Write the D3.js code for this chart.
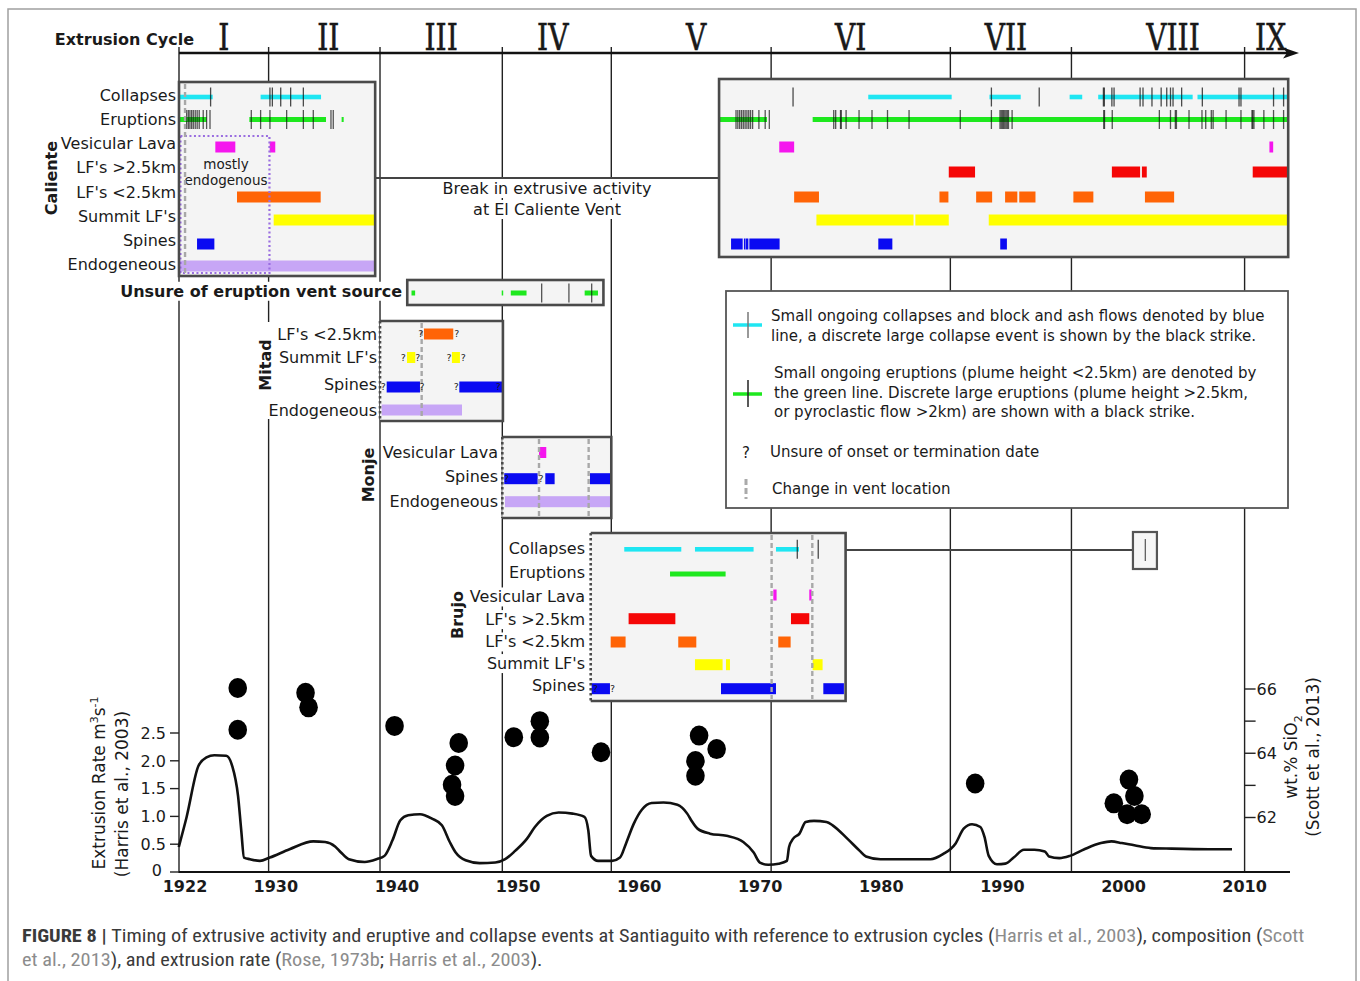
<!DOCTYPE html>
<html><head><meta charset="utf-8">
<script src="https://cdn.jsdelivr.net/npm/d3@7"></script>
<style>
body{margin:0;background:#fff}
svg{display:block}
text{font-family:"DejaVu Sans",Verdana,sans-serif;fill:#1a1a1a}
</style>
</head><body>
<svg id="c" width="1360" height="981"></svg>
<script>
// ---------------- DATA ----------------
const cycleNames = ["I","II","III","IV","V","VI","VII","VIII","IX"];
const cycleBounds = [1922,1929.4,1938.6,1948.7,1957.7,1970.9,1985.7,1995.7,2010];
const yearTicks = [1922,1930,1940,1950,1960,1970,1980,1990,2000,2010];
const rateTicks = [0,0.5,1.0,1.5,2.0,2.5];
const rateTickLabels = ["0","0.5","1.0","1.5","2.0","2.5"];
const sioTicks = [62,63,64,65,66];
const sioTickLabels = ["62","","64","","66"];
const rowLabelsAll = ["Collapses","Eruptions","Vesicular Lava","LF's >2.5km","LF's <2.5km","Summit LF's","Spines","Endogeneous"];
const rowLabelsMitad = ["LF's <2.5km","Summit LF's","Spines","Endogeneous"];
const rowLabelsMonje = ["Vesicular Lava","Spines","Endogeneous"];
const rowLabelsBrujo = ["Collapses","Eruptions","Vesicular Lava","LF's >2.5km","LF's <2.5km","Summit LF's","Spines"];

// Caliente 1922-1938
const calCollapses = [[1922.08,1924.78],[1928.74,1933.73]];
const calCollapseStrikes = [1924.61,1929.51,1929.71,1930.4,1931.22,1932.27];
const calEruptions = [[1922.08,1924.28],[1927.81,1934.14],[1935.43,1935.6]];
const calEruptionStrikes = [1922.63,1922.77,1922.9,1923.04,1923.18,1923.34,1923.5,1923.67,1924.0,1924.28,1924.56,1927.97,1928.74,1929.51,1930.89,1932.27,1933.09,1934.55,1934.74];
const calBars = [["ves",1925.0,1926.65],["ves",1929.49,1929.95],["lfl",1926.79,1933.7],["sum",1929.82,1938.15],["spi",1923.49,1924.92],["end",1922.08,1938.15]];

// Caliente 1966-2013
const lateCollapses = [[1978.92,1985.81],[1988.93,1991.51],[1995.55,1996.59],[1997.91,2005.71],[2006.11,2013.52]];
const lateCollapseStrikes = [1972.71,1989.09,1993.04,1998.34,1998.42,1999.04,1999.22,2001.37,2001.61,2002.35,2003.11,2003.57,2003.88,2004.09,2004.8,2006.51,2009.54,2009.7,2012.39,2013.22];
const lateEruptions = [[1966.67,1970.56],[1974.33,2013.52]];
const lateEruptionStrikes = [1968.0,1968.15,1968.3,1968.45,1968.6,1968.75,1968.9,1969.05,1969.2,1969.37,1969.89,1970.41,1970.75,1976.07,1976.23,1976.63,1976.69,1977.09,1978.16,1979.23,1980.51,1982.29,1986.52,1989.09,1989.8,1989.9,1990.0,1990.1,1990.2,1990.3,1990.4,1990.5,1990.8,1998.37,1998.43,1999.07,2002.96,2003.88,2004.28,2004.37,2005.41,2006.48,2006.79,2007.25,2007.4,2008.47,2009.7,2010.61,2010.67,2010.77,2011.59,2012.39,2013.22];
const lateBars = [["ves",1971.57,1972.8],["ves",2012.05,2012.36],
 ["lfg",1985.57,1987.74],["lfg",1999.04,2001.37],["lfg",2001.52,2001.92],["lfg",2010.67,2013.52],
 ["lfl",1972.8,1974.85],["lfl",1984.8,1985.54],["lfl",1987.83,1989.15],["lfl",1990.22,1991.23],["lfl",1991.39,1992.73],["lfl",1995.86,1997.51],["lfl",2001.77,2004.18],
 ["sum",1974.64,1982.66],["sum",1982.81,1985.57],["sum",1988.87,2013.52],
 ["spi",1967.59,1968.55],["spi",1968.65,1968.72],["spi",1968.8,1969.02],["spi",1969.1,1971.6],["spi",1979.75,1980.91],["spi",1989.82,1990.37]];

// Unsure of eruption vent source
const unsureEruptions = [[1941.2,1941.5],[1948.65,1948.73],[1949.4,1950.7],[1955.5,1956.6]];
const unsureStrikes = [1951.95,1954.2,1956.08];

// Mitad
const mitadBars = [["lfl",1942.23,1944.65],["sum",1940.83,1941.51],["sum",1944.54,1945.2],["spi",1939.15,1941.9],["spi",1945.15,1948.7],["end",1938.74,1945.37]];
const mitadUnsure = [["lfl",1941.96],["lfl",1944.93],["sum",1940.52],["sum",1941.71],["sum",1944.3],["sum",1945.48],["spi",1938.87],["spi",1942.07],["spi",1944.9],["spi",1948.37]];

// Monje
const monjeBars = [["ves",1951.73,1952.33],["spi",1948.86,1951.62],["spi",1952.25,1953.02],["spi",1955.94,1957.67],["end",1948.92,1957.67]];
const monjeUnsure = [["spi",1949.05],["spi",1951.9]];

// Brujo
const brujoCollapses = [[1958.77,1963.48],[1964.61,1969.45],[1971.3,1973.2]];
const brujoCollapseStrikes = [1973.06,1974.79];
const brujoEruptions = [[1962.55,1967.14]];
const brujoBars = [["ves",1971.08,1971.35],["ves",1974.05,1974.24],["lfg",1959.13,1962.99],["lfg",1972.54,1974.05],
 ["lfl",1957.65,1958.88],["lfl",1963.23,1964.72],["lfl",1971.49,1972.51],
 ["sum",1964.61,1966.89],["sum",1967.17,1967.5],["sum",1974.33,1975.15],
 ["spi",1956.08,1957.59],["spi",1966.76,1971.3],["spi",1975.21,1976.91]];
const brujoUnsure = [["spi",1956.4],["spi",1957.8]];
const brujoLateStrike = [2001.8];

// Extrusion rate (m3/s) [year, rate]
const rateSeries = [[1921.98,0.45],[1922.63,0.99],[1923.61,1.91],[1924.27,2.06],[1924.92,2.10],[1925.9,2.09],[1926.39,1.91],[1926.88,1.36],[1927.14,0.75],[1927.37,0.26],[1927.86,0.23],[1928.68,0.20],[1929.5,0.26],[1931.13,0.41],[1933.09,0.55],[1934.07,0.54],[1934.89,0.46],[1935.38,0.35],[1936.03,0.23],[1937.34,0.18],[1938.32,0.23],[1938.97,0.29],[1939.63,0.57],[1940.28,0.93],[1940.93,1.02],[1941.91,1.04],[1942.89,0.96],[1943.71,0.84],[1944.36,0.54],[1944.85,0.35],[1945.67,0.21],[1946.82,0.16],[1948.12,0.17],[1948.94,0.23],[1949.76,0.38],[1950.74,0.60],[1951.39,0.81],[1952.37,1.01],[1953.35,1.07],[1954.5,1.05],[1955.48,0.99],[1955.8,0.75],[1956.03,0.29],[1956.62,0.20],[1957.76,0.20],[1958.42,0.26],[1958.91,0.51],[1959.56,0.87],[1960.22,1.12],[1961.03,1.24],[1962.01,1.25],[1963.16,1.21],[1963.97,1.05],[1964.3,0.93],[1964.82,0.78],[1965.85,0.69],[1967.22,0.65],[1968.6,0.54],[1969.46,0.35],[1969.97,0.17],[1970.66,0.13],[1971.52,0.15],[1972.2,0.20],[1972.38,0.45],[1972.72,0.60],[1973.24,0.69],[1973.75,0.90],[1974.44,0.92],[1975.47,0.90],[1975.98,0.84],[1977.19,0.60],[1978.22,0.38],[1978.73,0.28],[1979.93,0.23],[1982.34,0.23],[1984.06,0.23],[1985.09,0.32],[1986.12,0.51],[1986.8,0.78],[1987.49,0.86],[1988.18,0.81],[1988.52,0.63],[1988.87,0.29],[1989.55,0.14],[1990.24,0.15],[1990.93,0.26],[1991.78,0.40],[1992.64,0.40],[1993.5,0.37],[1993.85,0.28],[1994.7,0.25],[1995.56,0.29],[1996.77,0.41],[1998.14,0.52],[1999.0,0.55],[1999.86,0.52],[2000.89,0.48],[2002.26,0.43],[2003.98,0.42],[2007.07,0.41],[2008.96,0.41]];

// Composition wt.% SiO2 [year, wt%]
const sioSeries = [[1926.85,66.03],[1926.85,64.73],[1932.45,65.88],[1932.7,65.43],[1939.8,64.85],[1945.1,64.32],[1944.8,63.62],[1944.55,63.02],[1944.8,62.67],[1949.65,64.5],[1951.8,65.0],[1951.8,64.49],[1956.85,64.03],[1964.95,64.55],[1966.4,64.13],[1964.65,63.76],[1964.65,63.3],[1987.75,63.06],[2000.45,63.18],[2000.9,62.67],[1999.2,62.44],[2000.3,62.1],[2001.5,62.1]];

const legendCollapseText = ["Small ongoing collapses and block and ash flows denoted by blue","line, a discrete large collapse event is shown by the black strike."];
const legendEruptionText = ["Small ongoing eruptions (plume height <2.5km) are denoted by","the green line. Discrete large eruptions (plume height >2.5km,","or pyroclastic flow >2km) are shown with a black strike."];
const legendUnsureText = "Unsure of onset or termination date";
const legendVentText = "Change in vent location";
const breakText = ["Break in extrusive activity","at El Caliente Vent"];

const captionLine1 = [["FIGURE 8 | ","b"],["Timing of extrusive activity and eruptive and collapse events at Santiaguito with reference to extrusion cycles (","n"],["Harris et al., 2003","l"],["), composition (","n"],["Scott","l"]];
const captionLine2 = [["et al., 2013","l"],["), and extrusion rate (","n"],["Rose, 1973b","l"],["; ","n"],["Harris et al., 2003","l"],[").","n"]];

// ---------------- STYLE ----------------
const colors = {col:"#1fe6f2", eru:"#1ee81e", ves:"#f516ee", lfg:"#f50606", lfl:"#ff6406", sum:"#ffff00", spi:"#0a0af2", end:"#c7a6f6"};

// ---------------- SCALES ----------------
const x = d3.scaleLinear().domain([1922, 2010]).range([179, 1244.6]);
const yRate = d3.scaleLinear().domain([0, 2.5]).range([872, 733]);
const ySi = d3.scaleLinear().domain([62, 66]).range([817.5, 689]);

const svg = d3.select("#c");

function bgRect(g, node, pad){
  const bb = node.getBBox();
  const t = node.getAttribute("transform");
  const r = g.insert("rect", ()=>node).attr("x",bb.x-pad).attr("y",bb.y).attr("width",bb.width+2*pad).attr("height",bb.height).attr("fill","#fff");
  if(t) r.attr("transform",t);
}

// frame
svg.append("rect").attr("x",8).attr("y",9).attr("width",1348).attr("height",1000)
  .attr("fill","none").attr("stroke","#a0a0a0").attr("stroke-width",1.5);

// cycle lines
svg.append("g").selectAll("line").data(cycleBounds).join("line")
  .attr("x1",d=>x(d)).attr("x2",d=>x(d)).attr("y1",47).attr("y2",873)
  .attr("stroke","#222").attr("stroke-width",1.4);

// top axis arrow
svg.append("line").attr("x1",179).attr("x2",1288).attr("y1",53).attr("y2",53).attr("stroke","#111").attr("stroke-width",2.6);
svg.append("path").attr("d","M1299,53 L1283,47.5 L1287,53 L1283,58.5 Z").attr("fill","#111");
svg.append("text").attr("x",194).attr("y",45).attr("text-anchor","end")
  .attr("font-weight","bold").attr("font-size",16).text("Extrusion Cycle");
const numOffsets = [0,4,0,-4,5,-10,-5,15,0];
cycleNames.forEach((n,i)=>{
  const a = cycleBounds[i], b = i < cycleBounds.length-1 ? cycleBounds[i+1] : 2014.3;
  const cx = x((a+b)/2) + numOffsets[i];
  svg.append("text").attr("transform",`translate(${cx},50) scale(0.74,1)`)
    .attr("text-anchor","middle").attr("font-size",38)
    .style("font-family","'DejaVu Serif',serif").attr("fill","#111")
    .attr("stroke","#111").attr("stroke-width",0.6).text(n);
});

// connectors
svg.append("line").attr("x1",375).attr("x2",719).attr("y1",178).attr("y2",178).attr("stroke","#444").attr("stroke-width",2);
{
  const bg = svg.append("g");
  breakText.forEach((t,i)=>{
    const n = bg.append("text").attr("x",547).attr("y",194+i*21).attr("text-anchor","middle").attr("font-size",16).text(t).node();
    bgRect(bg, n, 2);
  });
}
svg.append("line").attr("x1",846).attr("x2",x(2000.78)).attr("y1",550).attr("y2",550).attr("stroke","#444").attr("stroke-width",2);
svg.append("rect").attr("x",x(2000.78)).attr("y",532).attr("width",x(2002.76)-x(2000.78)).attr("height",37)
  .attr("fill","#f6f6f6").attr("stroke","#555").attr("stroke-width",2.2);
svg.selectAll("line.ls").data(brujoLateStrike).join("line").attr("class","ls")
  .attr("x1",d=>x(d)).attr("x2",d=>x(d)).attr("y1",539).attr("y2",561).attr("stroke","#555").attr("stroke-width",1.2);

// ---------------- PANELS ----------------
const calBarY = {col:97,eru:119.5,ves:147,lfg:172,lfl:197,sum:220,spi:244,end:266};
const panels = [
 {x0:1922, x1:1938.2, top:82, bottom:276, barY:calBarY, labels:rowLabelsAll, labelY:[95,119.2,143.4,167.6,191.8,216,240.2,264.4], labelX:176,
  name:"Caliente", nameX:51, nameY:178, dotted:false, vents:[1922.5], bars:calBars, col:calCollapses, colS:calCollapseStrikes, eru:calEruptions, eruS:calEruptionStrikes, unsure:[], bg:"none"},
 {x0:1966.6, x1:2013.6, top:79, bottom:257, barY:calBarY, labels:[], dotted:false, vents:[], bars:lateBars, col:lateCollapses, colS:lateCollapseStrikes, eru:lateEruptions, eruS:lateEruptionStrikes, unsure:[]},
 {x0:1940.85, x1:1957.05, top:280, bottom:305, barY:{eru:293}, labels:[], dotted:false, vents:[], bars:[], col:[], colS:[], eru:unsureEruptions, eruS:unsureStrikes, unsure:[]},
 {x0:1938.6, x1:1948.75, top:321, bottom:421, barY:{lfl:334,sum:357.5,spi:387,end:410}, labels:rowLabelsMitad, labelY:[334,357.5,384,410], labelX:377,
  name:"Mitad", nameX:265, nameY:365, dotted:true, vents:[1942.04], bars:mitadBars, col:[], colS:[], eru:[], eruS:[], unsure:mitadUnsure, bg:"block"},
 {x0:1948.7, x1:1957.7, top:437, bottom:518, barY:{ves:452.5,spi:478.7,end:501.7}, labels:rowLabelsMonje, labelY:[452.3,476.7,501], labelX:498,
  name:"Monje", nameX:368, nameY:475, dotted:true, vents:[1951.73,1955.83], bars:monjeBars, col:[], colS:[], eru:[], eruS:[], unsure:monjeUnsure, bg:"each"},
 {x0:1956.0, x1:1977.05, top:533, bottom:701, barY:{col:549.3,eru:574,ves:595,lfg:618.7,lfl:642,sum:664.7,spi:688.7}, labels:rowLabelsBrujo, labelY:[548.3,572.3,596.7,619.3,641.7,663.3,685.7], labelX:585,
  name:"Brujo", nameX:457, nameY:615, dotted:true, vents:[1970.94,1974.3], bars:brujoBars, col:brujoCollapses, colS:brujoCollapseStrikes, eru:brujoEruptions, eruS:[], unsure:brujoUnsure, bg:"each"}
];

panels.forEach((p,pi)=>{
  const g = svg.append("g");
  const X0 = x(p.x0), X1 = x(p.x1);
  g.append("rect").attr("x",X0).attr("y",p.top).attr("width",X1-X0).attr("height",p.bottom-p.top).attr("fill","#f4f4f4");
  g.append("g").selectAll("rect").data(p.bars).join("rect")
    .attr("x",d=>x(d[1])).attr("width",d=>Math.max(1.5,x(d[2])-x(d[1])))
    .attr("y",d=>p.barY[d[0]]-5.5).attr("height",11).attr("fill",d=>colors[d[0]]);
  g.append("g").selectAll("rect").data(p.col).join("rect")
    .attr("x",d=>x(d[0])).attr("width",d=>x(d[1])-x(d[0]))
    .attr("y",p.barY.col-2.3).attr("height",4.6).attr("fill",colors.col);
  g.append("g").selectAll("rect").data(p.eru).join("rect")
    .attr("x",d=>x(d[0])).attr("width",d=>Math.max(1.5,x(d[1])-x(d[0])))
    .attr("y",p.barY.eru-2.5).attr("height",5).attr("fill",colors.eru);
  g.append("g").selectAll("line").data(p.colS).join("line")
    .attr("x1",d=>x(d)).attr("x2",d=>x(d)).attr("y1",p.barY.col-9.5).attr("y2",p.barY.col+9.5)
    .attr("stroke","#111").attr("stroke-opacity",0.75).attr("stroke-width",1.3);
  g.append("g").selectAll("line").data(p.eruS).join("line")
    .attr("x1",d=>x(d)).attr("x2",d=>x(d)).attr("y1",p.barY.eru-9.5).attr("y2",p.barY.eru+9.5)
    .attr("stroke","#111").attr("stroke-opacity",0.7).attr("stroke-width",1.3);
  if(pi===0){
    g.append("rect").attr("x",x(1922.12)).attr("y",136).attr("width",x(1929.47)-x(1922.12)).attr("height",137)
      .attr("fill","none").attr("stroke","#9a6ee0").attr("stroke-width",2.2).attr("stroke-dasharray","2,2.5");
    g.append("text").attr("x",226).attr("y",169).attr("text-anchor","middle").attr("font-size",13.5).text("mostly");
    g.append("text").attr("x",226).attr("y",185).attr("text-anchor","middle").attr("font-size",13.5).text("endogenous");
  }
  g.append("g").selectAll("line").data(p.vents).join("line")
    .attr("x1",d=>x(d)).attr("x2",d=>x(d)).attr("y1",p.top+2).attr("y2",p.bottom-2)
    .attr("stroke","#a8a8a8").attr("stroke-width",2.4).attr("stroke-dasharray","5,3");
  g.append("g").selectAll("text").data(p.unsure).join("text")
    .attr("x",d=>x(d[1])).attr("y",d=>p.barY[d[0]]).attr("dy","0.35em")
    .attr("text-anchor","middle").attr("font-size",9.5).attr("fill","#222").text("?");
  // border
  if(p.dotted){
    g.append("path").attr("d",`M${X0},${p.top} H${X1} V${p.bottom} H${X0}`).attr("fill","none").attr("stroke","#4a4a4a").attr("stroke-width",2.6);
    g.append("line").attr("x1",X0).attr("x2",X0).attr("y1",p.top).attr("y2",p.bottom).attr("stroke","#4a4a4a").attr("stroke-width",2.6).attr("stroke-dasharray","2.5,2.5");
  } else {
    g.append("rect").attr("x",X0).attr("y",p.top).attr("width",X1-X0).attr("height",p.bottom-p.top).attr("fill","none").attr("stroke","#4a4a4a").attr("stroke-width",2.6);
  }
  // labels
  const lg = svg.append("g");
  p.labels.forEach((t,i)=>{
    const n = lg.append("text").attr("x",p.labelX).attr("y",p.labelY[i]).attr("dy","0.36em")
      .attr("text-anchor","end").attr("font-size",16).text(t).node();
    if(p.bg==="each") bgRect(lg, n, 1);
  });
  if(p.name){
    const n = lg.append("text").attr("transform",`translate(${p.nameX},${p.nameY}) rotate(-90)`)
      .attr("dy","0.36em").attr("text-anchor","middle").attr("font-weight","bold").attr("font-size",16).text(p.name).node();
    if(p.bg==="each") bgRect(lg, n, 1);
  }
  if(p.bg==="block"){
    const b = lg.node().getBBox();
    lg.insert("rect",":first-child").attr("x",b.x-2).attr("y",p.top+1).attr("width",b.width+3).attr("height",p.bottom-p.top-3).attr("fill","#fff");
  }
});
{
  const lg = svg.append("g");
  const n = lg.append("text").attr("x",402).attr("y",291).attr("dy","0.36em").attr("text-anchor","end")
    .attr("font-weight","bold").attr("font-size",16).text("Unsure of eruption vent source").node();
  bgRect(lg, n, 1);
}

// ---------------- LEGEND ----------------
const leg = svg.append("g");
leg.append("rect").attr("x",726).attr("y",291).attr("width",562).attr("height",217).attr("fill","#fff").attr("stroke","#555").attr("stroke-width",1.8);
leg.append("line").attr("x1",733).attr("x2",762).attr("y1",325).attr("y2",325).attr("stroke",colors.col).attr("stroke-width",3.5);
leg.append("line").attr("x1",748).attr("x2",748).attr("y1",312).attr("y2",338).attr("stroke","#777").attr("stroke-width",1.5);
leg.append("line").attr("x1",733).attr("x2",762).attr("y1",394).attr("y2",394).attr("stroke",colors.eru).attr("stroke-width",3.5);
leg.append("line").attr("x1",748).attr("x2",748).attr("y1",380).attr("y2",407).attr("stroke","#222").attr("stroke-width",1.5);
leg.append("text").attr("x",746).attr("y",453).attr("dy","0.35em").attr("text-anchor","middle").attr("font-size",15).text("?");
leg.append("line").attr("x1",746).attr("x2",746).attr("y1",479).attr("y2",499).attr("stroke","#aaa").attr("stroke-width",3).attr("stroke-dasharray","6,3");
legendCollapseText.forEach((t,i)=>leg.append("text").attr("x",771).attr("y",316+i*20).attr("dy","0.35em").attr("font-size",15).text(t));
legendEruptionText.forEach((t,i)=>leg.append("text").attr("x",774).attr("y",373+i*19.5).attr("dy","0.35em").attr("font-size",15).text(t));
leg.append("text").attr("x",770).attr("y",452).attr("dy","0.35em").attr("font-size",15).text(legendUnsureText);
leg.append("text").attr("x",772).attr("y",489).attr("dy","0.35em").attr("font-size",15).text(legendVentText);

// ---------------- BOTTOM CHART ----------------
const bc = svg.append("g");
bc.append("line").attr("x1",179).attr("x2",1290).attr("y1",872).attr("y2",872).attr("stroke","#111").attr("stroke-width",2);
bc.selectAll("line.lt").data(rateTicks).join("line").attr("class","lt")
  .attr("x1",170).attr("x2",179).attr("y1",d=>yRate(d)).attr("y2",d=>yRate(d)).attr("stroke","#222").attr("stroke-width",1.4);
bc.selectAll("text.ll").data(rateTicks).join("text").attr("class","ll")
  .attr("x",d=>d===0?162:166).attr("y",d=>yRate(d)-(d===0?1.5:0)).attr("dy","0.36em").attr("text-anchor","end").attr("font-size",16)
  .text((d,i)=>rateTickLabels[i]);
bc.selectAll("line.rt").data(sioTicks).join("line").attr("class","rt")
  .attr("x1",x(2010)).attr("x2",x(2010)+11).attr("y1",d=>ySi(d)).attr("y2",d=>ySi(d)).attr("stroke","#222").attr("stroke-width",1.4);
bc.selectAll("text.rl").data(sioTicks).join("text").attr("class","rl")
  .attr("x",x(2010)+12).attr("y",d=>ySi(d)).attr("dy","0.36em").attr("font-size",16)
  .text((d,i)=>sioTickLabels[i]);
bc.selectAll("text.xl").data(yearTicks).join("text").attr("class","xl")
  .attr("x",d=>x(d)+ (d===1922?6:0)).attr("y",892).attr("text-anchor","middle").attr("font-weight","bold").attr("font-size",16)
  .text(d=>d);
bc.append("path").datum(rateSeries)
  .attr("d",d3.line().x(d=>x(d[0])).y(d=>yRate(d[1])).curve(d3.curveMonotoneX))
  .attr("fill","none").attr("stroke","#111").attr("stroke-width",2.6);
bc.selectAll("ellipse").data(sioSeries).join("ellipse")
  .attr("cx",d=>x(d[0])).attr("cy",d=>ySi(d[1])).attr("rx",9.3).attr("ry",10).attr("fill","#000");

// axis titles
const lt1 = bc.append("text").attr("transform","translate(99,783) rotate(-90)").attr("dy","0.35em").attr("text-anchor","middle").attr("font-size",17);
lt1.append("tspan").text("Extrusion Rate m");
lt1.append("tspan").attr("dy",-7).attr("font-size",11).text("3");
lt1.append("tspan").attr("dy",7).text("s");
lt1.append("tspan").attr("dy",-7).attr("font-size",11).text("-1");
bc.append("text").attr("transform","translate(122,794) rotate(-90)").attr("dy","0.35em").attr("text-anchor","middle").attr("font-size",17).text("(Harris et al., 2003)");
const rt1 = bc.append("text").attr("transform","translate(1291,757) rotate(-90)").attr("dy","0.35em").attr("text-anchor","middle").attr("font-size",17);
rt1.append("tspan").text("wt.% SiO");
rt1.append("tspan").attr("dy",5).attr("font-size",11).text("2");
bc.append("text").attr("transform","translate(1313,757) rotate(-90)").attr("dy","0.35em").attr("text-anchor","middle").attr("font-size",17).text("(Scott et al., 2013)");

// ---------------- CAPTION ----------------
const capFont = "'Liberation Sans Narrow','Roboto Condensed','Arial Narrow','Liberation Sans',sans-serif";
function capLine(parts, yb){
  const g = svg.append("g");
  const t = g.append("text").attr("x",0).attr("y",0).attr("font-size",18.5).style("font-family",capFont);
  parts.forEach(([s,k])=>{
    const ts = t.append("tspan").text(s).style("fill", k==="l" ? "#8c8c8c" : "#3a3a3a");
    if(k==="b") ts.attr("font-weight","bold").style("fill","#3a3a3a");
  });
  return {g, w: t.node().getComputedTextLength(), yb};
}
const c1 = capLine(captionLine1, 942), c2 = capLine(captionLine2, 966);
const k = 1283 / c1.w;
c1.g.attr("transform",`translate(22,${c1.yb}) scale(${k},1)`);
c2.g.attr("transform",`translate(22,${c2.yb}) scale(${k},1)`);
</script>
</body></html>
